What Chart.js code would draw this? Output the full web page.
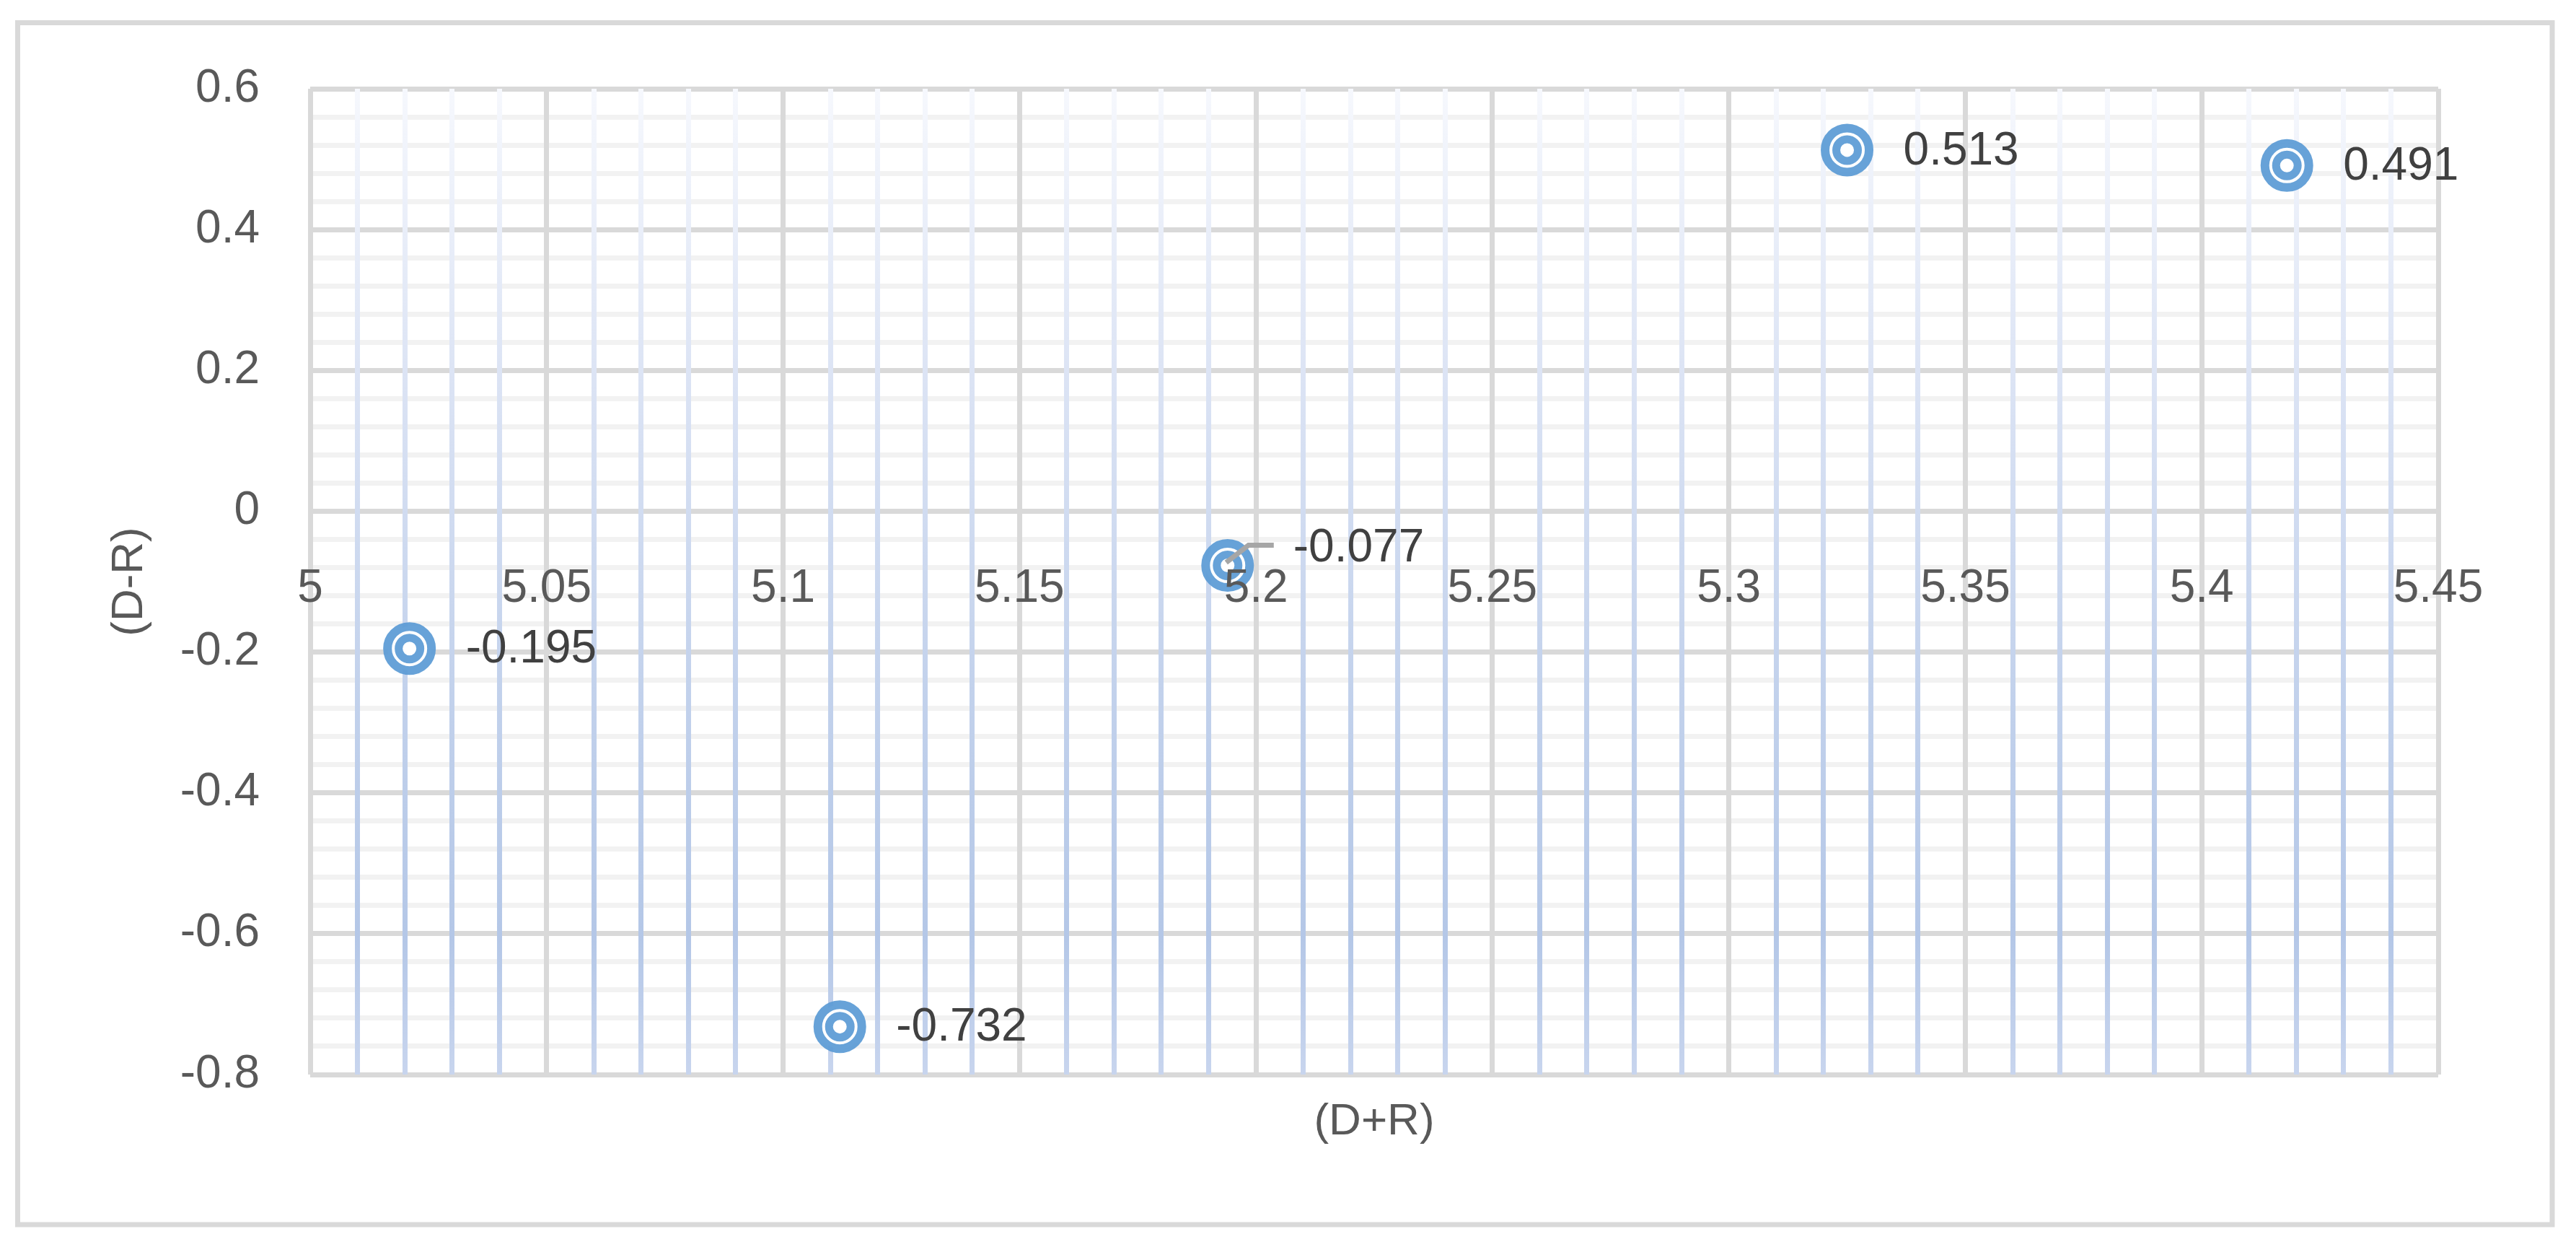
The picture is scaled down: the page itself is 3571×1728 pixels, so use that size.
<!DOCTYPE html>
<html>
<head>
<meta charset="utf-8">
<script src="https://cdn.jsdelivr.net/npm/chart.js@4.4.1/dist/chart.umd.min.js"></script>
<style>
  html, body { margin: 0; padding: 0; background: #ffffff; }
  #wrap { width: 3571px; height: 1728px; }
</style>
</head>
<body>
<div id="wrap"><canvas id="scatter" width="3571" height="1728"></canvas></div>
<script>
'use strict';

// datos
const dPlusR = [5.021, 5.112, 5.194, 5.325, 5.418];
const dMinusR = [-0.195, -0.732, -0.077, 0.513, 0.491];

// etiquetas de los ejes
const xTickLabels = ['5', '5.05', '5.1', '5.15', '5.2', '5.25', '5.3', '5.35', '5.4', '5.45'];
const yTickLabels = ['0.6', '0.4', '0.2', '0', '-0.2', '-0.4', '-0.6', '-0.8'];

const xTitle = '(D+R)';
const yTitle = '(D-R)';

const FONT = '"Liberation Sans", Arial, sans-serif';
const GRIS = '#d9d9d9';
const GRIS_CLARO = '#f2f2f2';
const AZUL = 'rgba(91,155,213,0.93)';

let puntos = dPlusR.map((x, i) => ({x: x, y: dMinusR[i]}));

function etiqueta(lista, v) {
    let l = lista.find(t => Math.abs(parseFloat(t) - v) < 1e-6);
    return l === undefined ? '' : l;
}

// degradado de las lineas menores verticales
let degradado = null;
function azulMenor(chart) {
    const a = chart.chartArea;
    if (!a) return '#c5d3ee';
    if (!degradado) {
        degradado = chart.ctx.createLinearGradient(0, a.top, 0, a.bottom);
        degradado.addColorStop(0, '#f6f8fd');
        degradado.addColorStop(0.3, '#dbe3f4');
        degradado.addColorStop(0.6, '#c3d2ec');
        degradado.addColorStop(0.86, '#b4c7e7');
        degradado.addColorStop(1, '#c8d5ee');
    }
    return degradado;
}

// marco exterior y titulos de ejes
const marcoYTitulos = {
    id: 'marcoYTitulos',
    beforeDraw(chart) {
        const ctx = chart.ctx;
        ctx.save();
        ctx.fillStyle = '#ffffff';
        ctx.fillRect(0, 0, chart.width, chart.height);
        ctx.strokeStyle = GRIS;
        ctx.lineWidth = 7;
        ctx.strokeRect(24.5, 31.5, 3513.5, 1665.5);
        ctx.restore();
    },
    afterDraw(chart) {
        const ctx = chart.ctx;
        const a = chart.chartArea;
        ctx.save();
        ctx.fillStyle = '#595959';
        ctx.font = '62px ' + FONT;
        ctx.textAlign = 'center';
        ctx.textBaseline = 'middle';
        ctx.fillText(xTitle, (a.left + a.right) / 2, 1555);
        ctx.translate(180, (a.top + a.bottom) / 2);
        ctx.rotate(-Math.PI / 2);
        ctx.fillText(yTitle, 0, 0);
        ctx.restore();
    }
};

// etiquetas de datos
const etiquetasDatos = {
    id: 'etiquetasDatos',
    afterDatasetsDraw(chart, args, opts) {
        const ctx = chart.ctx;
        const meta = chart.getDatasetMeta(0);
        ctx.save();
        ctx.font = '64px ' + FONT;
        ctx.fillStyle = '#404040';
        ctx.textAlign = 'left';
        ctx.textBaseline = 'middle';
        meta.data.forEach((p, i) => {
            const txt = String(chart.data.datasets[0].data[i].y);
            const desp = opts.desplazados[i];
            if (desp) {
                ctx.strokeStyle = '#a6a6a6';
                ctx.lineWidth = 7;
                ctx.beginPath();
                ctx.moveTo(p.x - 2, p.y - 4);
                ctx.lineTo(p.x + 29, p.y - 28);
                ctx.lineTo(p.x + 64, p.y - 28);
                ctx.stroke();
                ctx.fillText(txt, p.x + desp[0], p.y + desp[1]);
            } else {
                ctx.fillText(txt, p.x + 78, p.y + 2);
            }
        });
        ctx.restore();
    }
};

new Chart('scatter', {
    type: 'scatter',
    data: {
        datasets: [{
            label: 'anillo',
            data: puntos,
            order: 2,
            pointRadius: 30.5,
            pointHoverRadius: 30.5,
            borderWidth: 12,
            pointBorderWidth: 12,
            borderColor: AZUL,
            backgroundColor: '#ffffff'
        }, {
            label: 'centro',
            data: puntos,
            order: 1,
            pointRadius: 15,
            pointHoverRadius: 15,
            borderWidth: 11,
            pointBorderWidth: 11,
            borderColor: AZUL,
            backgroundColor: '#ffffff'
        }]
    },
    options: {
        responsive: false,
        devicePixelRatio: 1,
        animation: false,
        events: [],
        layout: {
            padding: {top: 123, right: 191, bottom: 239, left: 0}
        },
        plugins: {
            legend: {display: false},
            tooltip: {enabled: false},
            etiquetasDatos: {
                desplazados: {2: [91, -23]}
            }
        },
        scales: {
            x: {
                type: 'linear',
                position: {y: 0},
                min: 5,
                max: 5.45,
                border: {display: false},
                grid: {
                    z: -1,
                    lineWidth: 7,
                    drawTicks: false,
                    color: ctx => etiqueta(xTickLabels, ctx.tick.value) !== '' ? GRIS : azulMenor(ctx.chart)
                },
                ticks: {
                    z: 1,
                    stepSize: 0.01,
                    autoSkip: false,
                    maxRotation: 0,
                    padding: 70,
                    color: '#595959',
                    font: {family: FONT, size: 64},
                    callback: v => etiqueta(xTickLabels, v)
                }
            },
            y: {
                type: 'linear',
                position: 'left',
                min: -0.8,
                max: 0.6,
                border: {display: false},
                afterFit: s => { s.width = 430; },
                grid: {
                    z: -2,
                    lineWidth: 7,
                    drawTicks: false,
                    color: ctx => etiqueta(yTickLabels, ctx.tick.value) !== '' ? GRIS : GRIS_CLARO
                },
                ticks: {
                    stepSize: 0.04,
                    autoSkip: false,
                    padding: 70,
                    color: '#595959',
                    font: {family: FONT, size: 64},
                    callback: v => etiqueta(yTickLabels, v)
                }
            }
        }
    },
    plugins: [marcoYTitulos, etiquetasDatos]
});
</script>
</body>
</html>
